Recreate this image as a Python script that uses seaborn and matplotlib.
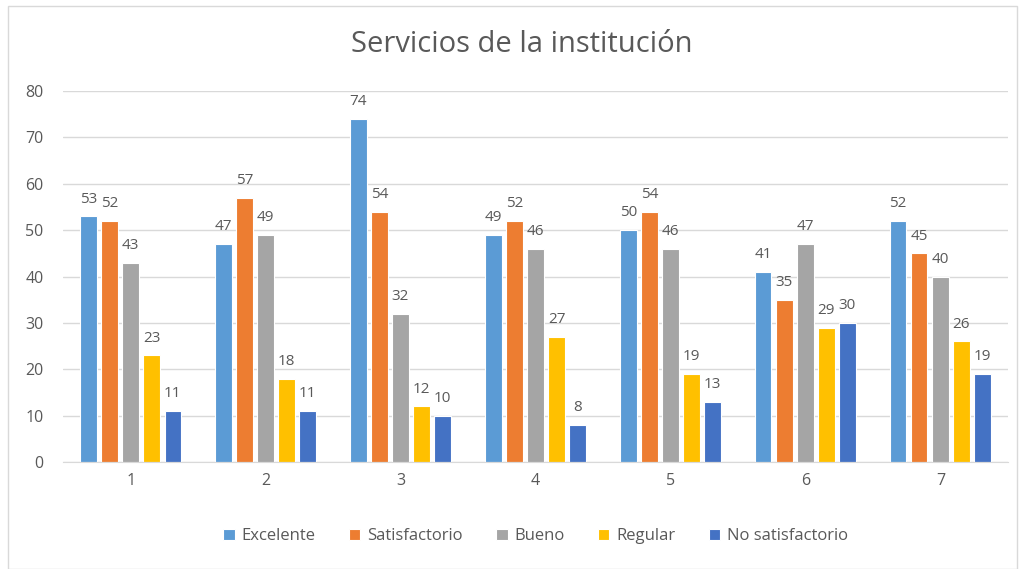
import numpy as np
import pandas as pd
import matplotlib
matplotlib.use('Agg')
import matplotlib.pyplot as plt
import seaborn as sns
from matplotlib.patches import Rectangle

# datos
grupos = ['1', '2', '3', '4', '5', '6', '7']
series = ['Excelente', 'Satisfactorio', 'Bueno', 'Regular', 'No satisfactorio']
excelente = [53, 47, 74, 49, 50, 41, 52]
satisfactorio = [52, 57, 54, 52, 54, 35, 45]
bueno = [43, 49, 32, 46, 46, 47, 40]
regular = [23, 18, 12, 27, 19, 29, 26]
no_satisfactorio = [11, 11, 10, 8, 13, 30, 19]
colores = ['#5B9BD5', '#ED7D31', '#A5A5A5', '#FFC000', '#4472C4']

valores = [excelente, satisfactorio, bueno, regular, no_satisfactorio]
df = pd.DataFrame({
    'grupo': np.tile(grupos, len(series)),
    'serie': np.repeat(series, len(grupos)),
    'valor': np.concatenate(valores),
})

sns.set_style('white')
plt.rcParams['font.family'] = ['Open Sans', 'DejaVu Sans']
gris = '#595959'

fig = plt.figure(figsize=(10.19, 5.69), dpi=100)
ax = fig.add_axes([0.062, 0.188, 0.927, 0.652])

sns.barplot(data=df, x='grupo', y='valor', hue='serie', hue_order=series,
            palette=colores, width=0.78, gap=0.22, ax=ax,
            edgecolor='white', linewidth=0.8, saturation=1, legend=True)

for cont in ax.containers:
    ax.bar_label(cont, padding=7, fontsize=11, color=gris)

ax.set_ylim(0, 80)
ax.set_yticks(range(0, 81, 10))
ax.yaxis.grid(True, color='#D9D9D9', linewidth=1)
ax.set_axisbelow(True)
for s in ['top', 'right', 'left']:
    ax.spines[s].set_visible(False)
ax.spines['bottom'].set_color('#D9D9D9')
ax.tick_params(axis='both', length=0, labelsize=11.5, colors=gris, pad=8)
ax.tick_params(axis='y', pad=14)
ax.set_xlabel('')
ax.set_ylabel('')

fig.text(0.512, 0.922, 'Servicios de la institución', ha='center', va='center',
         fontsize=21, color=gris)

ax.legend(loc='center', bbox_to_anchor=(0.5, -0.2), ncol=5, frameon=False,
          fontsize=12, labelcolor=gris, handlelength=0.7, handleheight=0.7,
          handletextpad=0.4, columnspacing=2.0)

fig.patches.append(Rectangle((0.008, 0.0), 0.99, 0.99, transform=fig.transFigure,
                             fill=False, edgecolor='#D9D9D9', linewidth=1))

fig.savefig('out.png', dpi=100, facecolor='white')
